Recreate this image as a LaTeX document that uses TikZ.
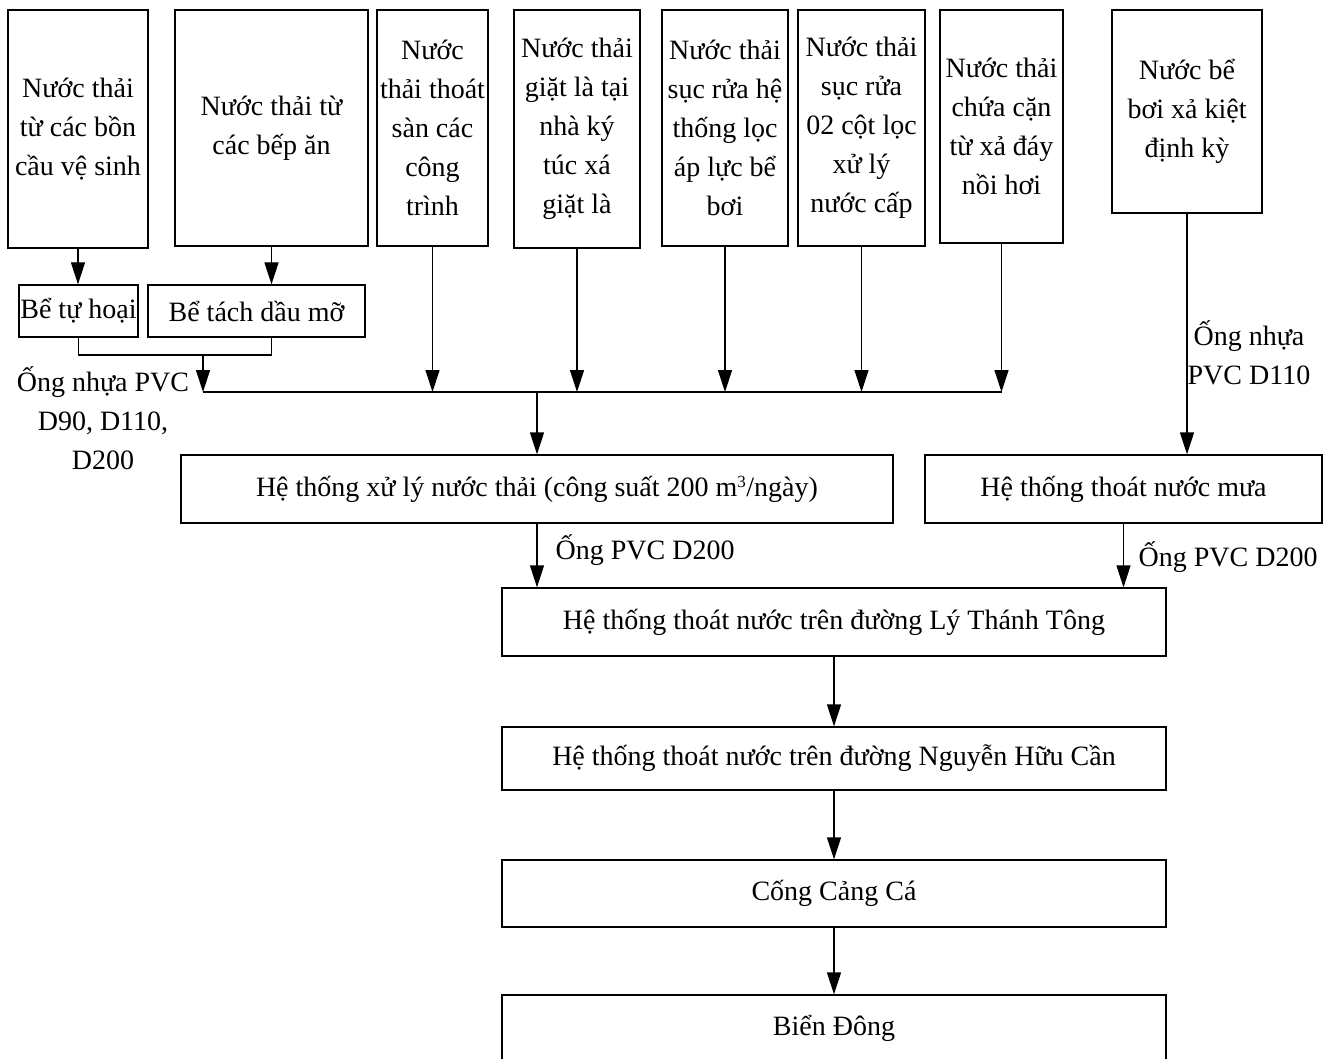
\documentclass[tikz,border=0pt]{standalone}
\usepackage{fontspec}
\setmainfont{Liberation Serif}
\usetikzlibrary{
  arrows.meta,
  positioning
}
\tikzset{>={Triangle[length=22pt,width=14pt]}}
\tikzset{every node/.style={font=\fontsize{28}{39}\selectfont}}
\tikzset{box/.style={draw, line width=1.3pt, align=center, inner sep=0pt}}
\tikzset{pipelabel/.style={align=center, inner sep=0pt}}

\begin{document}
\begin{tikzpicture}[x=1pt, y=-1pt, line width=1.3pt]
  \useasboundingbox (0,0) rectangle (1331,1059);
  % sources
  \node[box, minimum width=140, minimum height=238] (bonCau) at (78,129) {Nước thải\\từ các bồn\\cầu vệ sinh};
  \node[box, minimum width=193, minimum height=236] (bepAn) at (271.5,128) {Nước thải từ\\các bếp ăn};
  \node[box, minimum width=111, minimum height=236] (thoatSan) at (432.5,128) {Nước\\thải thoát\\sàn các\\công\\trình};
  \node[box, minimum width=126, minimum height=238] (giatLa) at (577,129) {Nước thải\\giặt là tại\\nhà ký\\túc xá\\giặt là};
  \node[box, minimum width=126, minimum height=236] (locBeBoi) at (725,128) {Nước thải\\sục rửa hệ\\thống lọc\\áp lực bể\\bơi};
  \node[box, minimum width=127, minimum height=236] (cotLoc) at (861.5,128) {Nước thải\\sục rửa\\02 cột lọc\\xử lý\\nước cấp};
  \node[box, minimum width=123, minimum height=233] (noiHoi) at (1001.5,126.5) {Nước thải\\chứa cặn\\từ xả đáy\\nồi hơi};
  \node[box, minimum width=150, minimum height=203] (xaKiet) at (1187,111.5) {Nước bể\\bơi xả kiệt\\định kỳ};
  % pre-treatment
  \node[box, minimum width=119, minimum height=52] (tuHoai) at (78.5,311) {Bể tự hoại};
  \node[box, minimum width=217, minimum height=52] (tachDau) at (256.5,311) {Bể tách dầu mỡ};
  % treatment and drains
  \node[box, minimum width=712, minimum height=68] (xuLy) at (537,489) {Hệ thống xử lý nước thải (công suất 200 m\textsuperscript{\fontsize{17}{17}\selectfont 3}/ngày)};
  \node[box, minimum width=397, minimum height=68] (nuocMua) at (1123.5,489) {Hệ thống thoát nước mưa};
  \node[box, minimum width=664, minimum height=68] (lyThanhTong) at (834,622) {Hệ thống thoát nước trên đường Lý Thánh Tông};
  \node[box, minimum width=664, minimum height=63] (nguyenHuuCan) at (834,758.5) {Hệ thống thoát nước trên đường Nguyễn Hữu Cần};
  \node[box, minimum width=664, minimum height=67] (congCangCa) at (834,893.5) {Cống Cảng Cá};
  \node[box, minimum width=664, minimum height=66] (bienDong) at (834,1028) {Biển Đông};
  % pipe labels
  \node[pipelabel] (ongTrai) at (103,418) {Ống nhựa PVC\\D90, D110,\\D200};
  \node[pipelabel, anchor=west] (ongPhai) at (1187,353) {Ống nhựa\\PVC D110};
  \node[pipelabel, anchor=west] (ongXuLy) at (555,550) {Ống PVC D200};
  \node[pipelabel, anchor=west] (ongMua) at (1138,557) {Ống PVC D200};
  % collector
  \coordinate (busL) at (203,392);
  \coordinate (busR) at (1001.5,392);
  \coordinate (merge) at (203,355);
  \draw[line width=2pt] (busL) -- (busR);
  \draw[->] (bonCau.south) -- (bonCau.south |- tuHoai.north);
  \draw[->] (bepAn.south) -- (bepAn.south |- tachDau.north);
  \draw (tuHoai.south) |- (bepAn.south |- merge) -- (bepAn.south |- tachDau.south);
  \draw[->] (merge) -- (busL);
  \foreach \src in {thoatSan,giatLa,locBeBoi,cotLoc,noiHoi}
    \draw[->] (\src.south) -- (\src.south |- busL);
  \draw[->] (xuLy.north |- busL) -- (xuLy.north);
  \draw[->] (xaKiet.south) -- (xaKiet.south |- nuocMua.north);
  \draw[->] (xuLy.south) -- (xuLy.south |- lyThanhTong.north);
  \draw[->] (nuocMua.south) -- (nuocMua.south |- lyThanhTong.north);
  \foreach \a/\b in {lyThanhTong/nguyenHuuCan,nguyenHuuCan/congCangCa,congCangCa/bienDong}
    \draw[->] (\a) -- (\b);
\end{tikzpicture}
\end{document}
